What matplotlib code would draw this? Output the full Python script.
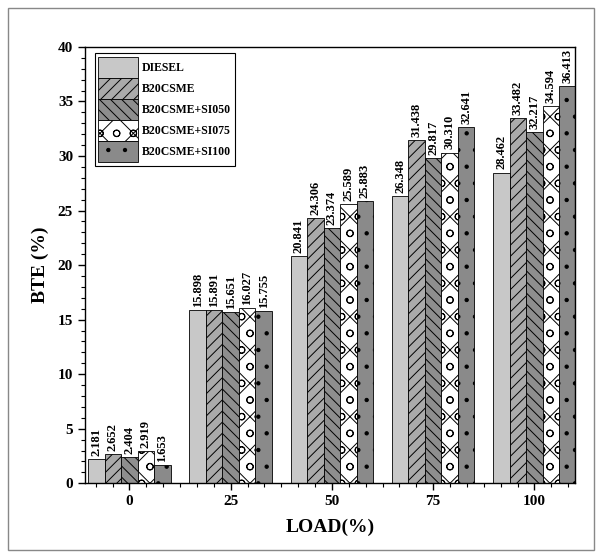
import matplotlib.pyplot as plt
import numpy as np
from matplotlib.ticker import MultipleLocator, AutoMinorLocator
from matplotlib.patches import Rectangle

plt.rcParams['font.family'] = ['Liberation Serif', 'DejaVu Serif']
plt.rcParams['font.weight'] = 'bold'
plt.rcParams['hatch.linewidth'] = 0.7

loads = [0, 25, 50, 75, 100]
fuels = ["DIESEL", "B20CSME", "B20CSME+SI050", "B20CSME+SI075", "B20CSME+SI100"]

diesel = [2.181, 15.898, 20.841, 26.348, 28.462]
b20 = [2.652, 15.891, 24.306, 31.438, 33.482]
si050 = [2.404, 15.651, 23.374, 29.817, 32.217]
si075 = [2.919, 16.027, 25.589, 30.310, 34.594]
si100 = [1.653, 15.755, 25.883, 32.641, 36.413]

series = [diesel, b20, si050, si075, si100]
colors = ["#c8c8c8", "#aaaaaa", "#8e8e8e", "#ffffff", "#8a8a8a"]
hatches = [None, "///", "\\\\\\", "xo", "."]

fig = plt.figure(figsize=(6.02, 5.58), dpi=100)
ax = fig.add_axes([0.141, 0.134, 0.814, 0.782])

w = 4.07
x = np.array(loads)
for i, vals in enumerate(series):
    pos = x + (i - 2) * w
    bars = ax.bar(pos, vals, width=w, color=colors[i], edgecolor="black",
                  linewidth=0.6, hatch=hatches[i], label=fuels[i])
    for b, v in zip(bars, vals):
        ax.text(b.get_x() + w / 2, v + 0.3, f"{v:.3f}", rotation=90,
                ha="center", va="bottom", fontsize=9, fontweight="bold")

ax.set_xlim(-11, 110)
ax.set_ylim(0, 40)
ax.set_xticks(loads)
ax.xaxis.set_minor_locator(AutoMinorLocator(6))
ax.yaxis.set_major_locator(MultipleLocator(5))
ax.yaxis.set_minor_locator(MultipleLocator(1))
ax.tick_params(axis="both", which="major", direction="out", length=5,
               width=1, labelsize=11)
ax.tick_params(axis="both", which="minor", direction="out", length=3, width=0.8)
for lab in ax.get_xticklabels() + ax.get_yticklabels():
    lab.set_fontweight("bold")

for s in ax.spines.values():
    s.set_linewidth(1.0)

ax.set_xlabel("LOAD(%)", fontsize=14, fontweight="bold", labelpad=8)
ax.set_ylabel("BTE (%)", fontsize=14, fontweight="bold", labelpad=6)

leg = ax.legend(loc="upper left", bbox_to_anchor=(0.02, 0.985), fontsize=8.5,
                handlelength=3.4, handleheight=2.3, labelspacing=0.05,
                handletextpad=0.3, borderpad=0.3, fancybox=False,
                framealpha=1, edgecolor="black", borderaxespad=0)
leg.get_frame().set_linewidth(0.8)

fig.patches.append(Rectangle((8 / 602, 8 / 558), 586 / 602, 542 / 558,
                             transform=fig.transFigure, fill=False,
                             edgecolor="#888888", linewidth=1.0))

plt.savefig("out.png", dpi=100)
